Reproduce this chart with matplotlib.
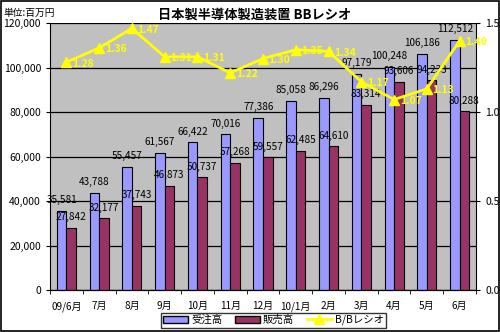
import numpy as np
import matplotlib
matplotlib.use("Agg")
import matplotlib.pyplot as plt
from matplotlib.patches import Rectangle, Patch
from matplotlib.lines import Line2D
from matplotlib.ticker import FuncFormatter, FixedLocator

plt.rcParams['font.family'] = ['Noto Sans CJK JP', 'DejaVu Sans']

# data
months = ['09/6月', '7月', '8月', '9月', '10月', '11月', '12月',
          '10/1月', '2月', '3月', '4月', '5月', '6月']
orders = [35581, 43788, 55457, 61567, 66422, 70016, 77386,
          85058, 86296, 97179, 100248, 106186, 112512]
sales = [27842, 32177, 37743, 46873, 50737, 57268, 59557,
         62485, 64610, 83314, 93606, 94233, 80288]
bb_ratio = [1.28, 1.36, 1.47, 1.31, 1.31, 1.22, 1.30,
            1.35, 1.34, 1.17, 1.07, 1.13, 1.40]

blue = '#9999FF'
maroon = '#993366'
yellow = '#FFFF00'

fig = plt.figure(figsize=(5, 3.32), dpi=100)
ax = fig.add_axes([0.1, 0.1265, 0.852, 0.8042])
ax.set_facecolor('#C0C0C0')

x = np.arange(len(months))
w = 0.29
ax.bar(x - w / 2, orders, w, color=blue, edgecolor='black', linewidth=0.8, zorder=2)
ax.bar(x + w / 2, sales, w, color=maroon, edgecolor='black', linewidth=0.8, zorder=2)

# labels sit a few pixels above the bar tops, like Excel "outside end"
for xi, v in zip(x, orders):
    ax.annotate(f'{v:,}', (xi - w / 2, v), xytext=(0, 4), textcoords='offset points',
                ha='center', va='bottom', fontsize=7.2, zorder=3)
for xi, v in zip(x, sales):
    ax.annotate(f'{v:,}', (xi + w / 2, v), xytext=(0, 4), textcoords='offset points',
                ha='center', va='bottom', fontsize=7.2, zorder=3)

ax.set_xlim(-0.5, len(months) - 0.5)
ax.set_ylim(0, 120000)
ax.set_yticks(np.arange(0, 120001, 20000))
ax.yaxis.set_major_formatter(FuncFormatter(lambda v, p: f'{int(v):,}'))
ax.grid(axis='y', color='black', linewidth=0.9, zorder=1)
ax.set_axisbelow(True)
ax.set_xticks(x)
ax.set_xticklabels(months, fontsize=7.2)
ax.xaxis.set_minor_locator(FixedLocator(np.arange(-0.5, len(months), 1)))
ax.tick_params(axis='x', which='major', length=0, pad=8)
ax.tick_params(axis='x', which='minor', length=3, direction='out')
ax.tick_params(axis='y', labelsize=7.5, length=3, direction='out')
for s in ['top', 'right']:
    ax.spines[s].set_visible(False)

ax2 = ax.twinx()
ax2.set_ylim(0, 1.5)
ax2.set_yticks([0, 0.5, 1.0, 1.5])
ax2.yaxis.set_major_formatter(FuncFormatter(lambda v, p: f'{v:.1f}'))
ax2.tick_params(axis='y', labelsize=7.5, length=3, direction='out')
ax2.spines['top'].set_visible(False)
ax2.spines['left'].set_visible(False)
ax2.plot(x, bb_ratio, color=yellow, linewidth=2, marker='^', markersize=7,
         markeredgecolor=yellow, zorder=4)
for xi, v in zip(x, bb_ratio):
    ax2.annotate(f'{v:.2f}', (xi, v), xytext=(4, -1), textcoords='offset points',
                 ha='left', va='center', fontsize=7.5, fontweight='bold', color=yellow)

fig.text(0.51, 0.955, '日本製半導体製造装置 BBレシオ', ha='center', va='center',
         fontsize=9.5, fontweight='bold')
fig.text(0.006, 0.962, '単位:百万円', ha='left', va='center', fontsize=7)

handles = [Patch(facecolor=blue, edgecolor='black'),
           Patch(facecolor=maroon, edgecolor='black'),
           Line2D([], [], color=yellow, linewidth=2, marker='^', markersize=7)]
leg = fig.legend(handles, ['受注高', '販売高', 'B/Bレシオ'], loc='center',
                 bbox_to_anchor=(0.547, 0.036), ncol=3, fontsize=7.5, frameon=True,
                 fancybox=False, edgecolor='black', borderpad=0.2, handlelength=2.4,
                 handletextpad=0.3, columnspacing=1.2)
leg.get_frame().set_linewidth(1)

fig.patches.append(Rectangle((0.001, 0.002), 0.997, 0.995, transform=fig.transFigure,
                             fill=False, edgecolor='black', linewidth=1.2))

fig.savefig('out.png', dpi=100)
